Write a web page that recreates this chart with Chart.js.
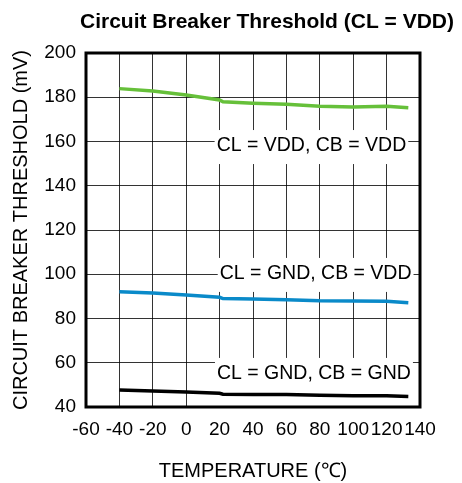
<!DOCTYPE html>
<html>
<head>
<meta charset="utf-8">
<script src="https://cdn.jsdelivr.net/npm/chart.js@4/dist/chart.umd.min.js"></script>
<style>
  html, body { margin: 0; padding: 0; background: #fff; }
  #wrap { width: 462px; height: 483px; }
</style>
</head>
<body>
<div id="wrap"><canvas id="chart" width="462" height="483"></canvas></div>
<script>
const TITLE = "Circuit Breaker Threshold (CL = VDD)";
const X_TITLE = "TEMPERATURE (\u2103)";
const Y_TITLE = "CIRCUIT BREAKER THRESHOLD (mV)";

// temperature (C) and threshold (mV)
const temps  = [-40, -20, 0, 20, 22, 40, 60, 80, 100, 120, 133];
const vddVdd = [183.9, 182.8, 181.0, 178.8, 178.0, 177.3, 176.8, 175.9, 175.6, 175.9, 175.3];
const gndVdd = [92.1, 91.5, 90.6, 89.6, 89.0, 88.8, 88.5, 88.0, 87.9, 87.8, 87.1];
const gndGnd = [47.7, 47.2, 46.8, 46.2, 45.8, 45.7, 45.6, 45.3, 45.1, 45.1, 44.8];

// curve labels: text, anchor (in data units)
const curveLabels = ["CL = VDD, CB = VDD", "CL = GND, CB = VDD", "CL = GND, CB = GND"];
const labelX = [75, 77.5, 76.5];
const labelY = [158.4, 100.6, 55.4];

const FONT = "'Liberation Sans', Arial, sans-serif";

const pts = ys => temps.map((t, i) => ({ x: t, y: ys[i] }));

// frame + title
const frame = {
    id: "frame",
    afterDraw(chart) {
        const { ctx, chartArea: a } = chart;
        ctx.save();
        ctx.strokeStyle = "#000";
        ctx.lineWidth = 3;
        ctx.strokeRect(a.left, a.top, a.right - a.left, a.bottom - a.top);
        ctx.fillStyle = "#000";
        ctx.font = "bold 21px " + FONT;
        ctx.textAlign = "center";
        ctx.textBaseline = "alphabetic";
        ctx.fillText(TITLE, 267, 28);
        ctx.restore();
    }
};

// white boxes + labels over the grid, under the curves
const curveLabelPlugin = {
    id: "curveLabels",
    beforeDatasetsDraw(chart) {
        const { ctx, scales: { x, y }, chartArea: a } = chart;
        ctx.save();
        ctx.font = "19.5px " + FONT;
        ctx.textAlign = "center";
        ctx.textBaseline = "middle";
        curveLabels.forEach((txt, i) => {
            const cx = x.getPixelForValue(labelX[i]);
            const cy = y.getPixelForValue(labelY[i]);
            const w = ctx.measureText(txt).width + 4;
            const top = cy - 15;
            const bottom = i === 2 ? a.bottom : cy + 19;
            ctx.fillStyle = "#fff";
            ctx.fillRect(cx - w / 2, top, w, bottom - top);
            ctx.fillStyle = "#000";
            ctx.fillText(txt, cx, cy + 1);
        });
        ctx.restore();
    }
};

const line = (data, color) => ({
    data, borderColor: color, backgroundColor: color,
    borderWidth: 3.5, pointRadius: 0, tension: 0, fill: false
});

new Chart(document.getElementById("chart").getContext("2d"), {
    type: "line",
    data: {
        datasets: [
            line(pts(vddVdd), "#66c03a"),
            line(pts(gndVdd), "#0a8ac9"),
            line(pts(gndGnd), "#000000"),
        ]
    },
    options: {
        responsive: false,
        animation: false,
        layout: { padding: { top: 53, right: 42, left: 0, bottom: 0 } },
        plugins: { legend: { display: false }, tooltip: { enabled: false } },
        scales: {
            x: {
                type: "linear", min: -60, max: 140,
                afterFit: s => { s.height = 76; },
                grid: { color: "rgba(0,0,0,0.8)", lineWidth: 1, drawTicks: false },
                border: { display: false },
                ticks: { stepSize: 20, padding: 11, color: "#000", font: { family: FONT, size: 19 }, maxRotation: 0, autoSkip: false },
                title: { display: true, text: X_TITLE, color: "#000", font: { family: FONT, size: 20 }, padding: { top: 0, bottom: 0 } }
            },
            y: {
                min: 40, max: 200,
                afterFit: s => { s.width = 86; },
                grid: { color: "rgba(0,0,0,0.8)", lineWidth: 1, drawTicks: false },
                border: { display: false },
                ticks: { stepSize: 20, padding: 10, color: "#000", font: { family: FONT, size: 19 } },
                title: { display: true, text: Y_TITLE, color: "#000", font: { family: FONT, size: 20 }, padding: { top: 9, bottom: 0 } }
            }
        }
    },
    plugins: [frame, curveLabelPlugin]
});
</script>
</body>
</html>
